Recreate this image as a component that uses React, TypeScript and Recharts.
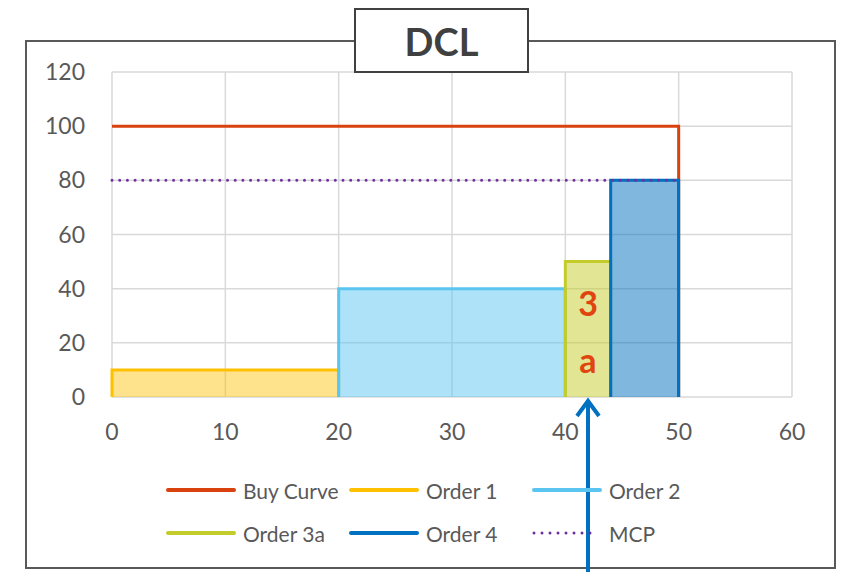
import { ComposedChart, Area, Line, XAxis, YAxis, CartesianGrid, ReferenceLine, ReferenceDot } from "recharts";

// DCL – demand curve vs. stacked sell orders
const xTicks = [0, 10, 20, 30, 40, 50, 60];
const yTicks = [0, 20, 40, 60, 80, 100, 120];

const buyCurve = [{ q: 0, p: 100 }, { q: 50, p: 100 }, { q: 50, p: 0 }];
const order1 = [{ q: 0, p: 0 }, { q: 0, p: 10 }, { q: 20, p: 10 }, { q: 20, p: 0 }];
const order2 = [{ q: 20, p: 0 }, { q: 20, p: 40 }, { q: 40, p: 40 }, { q: 40, p: 0 }];
const order3a = [{ q: 40, p: 0 }, { q: 40, p: 50 }, { q: 44, p: 50 }, { q: 44, p: 0 }];
const order4 = [{ q: 44, p: 0 }, { q: 44, p: 80 }, { q: 50, p: 80 }, { q: 50, p: 0 }];
const mcp = [{ q: 0, p: 80 }, { q: 50, p: 80 }];

const arrowQty = 42;
const arrowFrom = 0;
const arrowTo = -66;
const orderTag = [{ q: 42, p: 34.5, text: "3" }, { q: 42, p: 13.5, text: "a" }];

const legendRows = [
    [
        { name: "Buy Curve", color: "#D9410E", dotted: false },
        { name: "Order 1", color: "#FFC000", dotted: false },
        { name: "Order 2", color: "#5BC5F2", dotted: false },
    ],
    [
        { name: "Order 3a", color: "#C3CC2A", dotted: false },
        { name: "Order 4", color: "#0070C0", dotted: false },
        { name: "MCP", color: "#7030A0", dotted: true },
    ],
];
const legendCols = [166, 349, 532];
const legendTops = [490, 533];

const Arrow = (props: any) => {
    const { x1, y1, x2, y2 } = props;
    return (
        <g stroke="#0070C0" strokeWidth={4} fill="none">
            <line x1={x1} y1={y1 + 3} x2={x2} y2={y2} />
            <polyline points={`${x1 - 11},${y1 + 19} ${x1},${y1 + 4} ${x1 + 11},${y1 + 19}`} strokeLinejoin="miter" />
        </g>
    );
};

export default function App() {
    return (
        <div style={{ position: "absolute", left: 0, top: 0, width: 843, height: 572, background: "#fff", fontFamily: "Lato, 'Open Sans', sans-serif" }}>
            <div style={{ position: "absolute", left: 25, top: 40, width: 811, height: 529, border: "2px solid #595959", boxSizing: "border-box" }} />
            <div style={{ position: "absolute", left: 0, top: 0 }}>
                <ComposedChart width={843} height={572} margin={{ top: 72, right: 51, left: 0, bottom: 135 }}>
                    <CartesianGrid stroke="#D9D9D9" strokeWidth={1.5} />
                    <XAxis
                        type="number"
                        dataKey="q"
                        domain={[0, 60]}
                        ticks={xTicks}
                        axisLine={false}
                        tickLine={false}
                        tickSize={0}
                        tickMargin={27}
                        height={40}
                        tick={{ fill: "#595959", fontSize: 23 }}
                    />
                    <YAxis
                        type="number"
                        domain={[0, 120]}
                        ticks={yTicks}
                        axisLine={false}
                        tickLine={false}
                        tickSize={0}
                        tickMargin={27}
                        width={112}
                        tick={{ fill: "#595959", fontSize: 23 }}
                    />
                    <Area data={buyCurve} dataKey="p" type="linear" stroke="#D9410E" strokeWidth={3} fill="none" fillOpacity={0} isAnimationActive={false} />
                    <Area data={order1} dataKey="p" type="linear" stroke="#FFC000" strokeWidth={3} fill="#FFC000" fillOpacity={0.45} isAnimationActive={false} />
                    <Area data={order2} dataKey="p" type="linear" stroke="#5BC5F2" strokeWidth={3} fill="#5BC5F2" fillOpacity={0.5} isAnimationActive={false} />
                    <Area data={order3a} dataKey="p" type="linear" stroke="#C3CC2A" strokeWidth={3} fill="#C3CC2A" fillOpacity={0.5} isAnimationActive={false} />
                    <Area data={order4} dataKey="p" type="linear" stroke="#0070C0" strokeWidth={3} fill="#0070C0" fillOpacity={0.5} isAnimationActive={false} />
                    <Line data={mcp} dataKey="p" stroke="#7030A0" strokeWidth={3} strokeDasharray="0 7.7" strokeLinecap="round" dot={false} isAnimationActive={false} />
                    <ReferenceLine
                        segment={[{ x: arrowQty, y: arrowFrom }, { x: arrowQty, y: arrowTo }]}
                        ifOverflow="visible"
                        shape={Arrow}
                    />
                    {orderTag.map((t) => (
                        <ReferenceDot
                            key={t.text}
                            x={t.q}
                            y={t.p}
                            r={0}
                            shape={() => <g />}
                            label={{ value: t.text, position: "center", fill: "#E0450F", fontSize: 34, fontWeight: 700 }}
                        />
                    ))}
                </ComposedChart>
            </div>
            <div style={{ position: "absolute", left: 354, top: 8, width: 175, height: 65, border: "2px solid #404040", boxSizing: "border-box", background: "#fff", display: "flex", alignItems: "center", justifyContent: "center", color: "#404040", fontWeight: 700, fontSize: 38 }}>
                DCL
            </div>
            {legendRows.map((row, ri) =>
                row.map((item, ci) => (
                    <div key={item.name} style={{ position: "absolute", left: legendCols[ci], top: legendTops[ri] - 13, height: 26, display: "flex", alignItems: "center", color: "#595959", fontSize: 21 }}>
                        <svg width={70} height={8} style={{ marginRight: 7 }}>
                            {item.dotted ? (
                                <line x1={2} y1={4} x2={66} y2={4} stroke={item.color} strokeWidth={3} strokeDasharray="0 8" strokeLinecap="round" />
                            ) : (
                                <line x1={2} y1={4} x2={68} y2={4} stroke={item.color} strokeWidth={4} strokeLinecap="round" />
                            )}
                        </svg>
                        <span>{item.name}</span>
                    </div>
                ))
            )}
        </div>
    );
}
